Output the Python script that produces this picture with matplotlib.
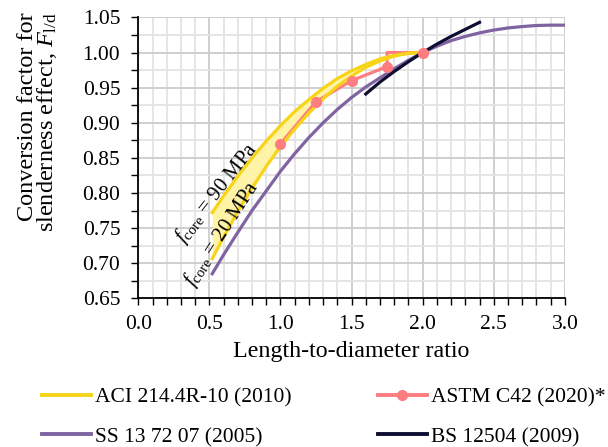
import matplotlib
matplotlib.use("Agg")
import matplotlib.pyplot as plt
from matplotlib.lines import Line2D
import numpy as np

plt.rcParams['font.family'] = ['Liberation Serif', 'DejaVu Serif']
plt.rcParams['mathtext.fontset'] = 'custom'
plt.rcParams['mathtext.rm'] = 'Liberation Serif'
plt.rcParams['mathtext.it'] = 'Liberation Serif:italic'

# ---- data ----
aci_x = [0.52, 0.6, 0.7, 0.8, 0.9, 1.0, 1.1, 1.2, 1.3, 1.4, 1.5, 1.6, 1.7, 1.8, 1.9, 2.0]
aci_90 = [0.772, 0.796, 0.824, 0.850, 0.874, 0.896, 0.916, 0.933, 0.949, 0.963,
          0.974, 0.983, 0.991, 0.996, 0.999, 1.000]
aci_20 = [0.7065, 0.737, 0.774, 0.807, 0.838, 0.866, 0.891, 0.914, 0.934, 0.952,
          0.9665, 0.979, 0.988, 0.995, 0.999, 1.000]

ss_x = [0.52, 0.6, 0.7, 0.8, 0.9, 1.0, 1.1, 1.2, 1.3, 1.4, 1.5, 1.6, 1.7, 1.8, 1.9,
        2.0, 2.1, 2.2, 2.3, 2.4, 2.5, 2.6, 2.7, 2.8, 2.9, 3.0]
ss_y = [0.685, 0.712, 0.744, 0.775, 0.803, 0.831, 0.856, 0.879, 0.900, 0.919,
        0.936, 0.951, 0.964, 0.977, 0.989, 1.000, 1.009, 1.017, 1.023, 1.028,
        1.032, 1.035, 1.037, 1.0385, 1.039, 1.039]

astm_x = [1.0, 1.25, 1.5, 1.75, 1.75, 2.0]
astm_y = [0.87, 0.93, 0.96, 0.98, 1.00, 1.00]
astm_marks = [0, 1, 2, 3, 5]

bs_x = [1.6, 1.7, 1.8, 1.9, 2.0, 2.1, 2.2, 2.3, 2.4]
bs_y = [0.941, 0.958, 0.973, 0.987, 1.000, 1.012, 1.023, 1.033, 1.043]

labels = ['ACI 214.4R-10 (2010)', 'SS 13 72 07 (2005)', 'ASTM C42 (2020)*', 'BS 12504 (2009)']

# ---- style ----
c_yellow = '#F7D417'
c_fill = '#FFF3A8'
c_pink = '#FF7C80'
c_purple = '#8064A2'
c_black = '#0E0E33'
lw = 2.3

fig = plt.figure(figsize=(6.08, 4.47), dpi=100)
ax = fig.add_axes([0.2275, 0.3327, 0.7015, 0.6283])

ax.fill_between(aci_x, aci_20, aci_90, color=c_fill, lw=0, zorder=1)
ax.plot(astm_x, astm_y, color=c_pink, lw=lw, zorder=2, solid_capstyle='butt')
ax.plot(aci_x, aci_90, color=c_yellow, lw=lw, zorder=3)
ax.plot(aci_x, aci_20, color=c_yellow, lw=lw, zorder=3)
ax.plot(ss_x, ss_y, color=c_purple, lw=lw, zorder=4)
ax.plot(bs_x, bs_y, color=c_black, lw=lw, zorder=5)
ax.plot([astm_x[i] for i in astm_marks], [astm_y[i] for i in astm_marks],
        ls='none', marker='o', ms=7, color=c_pink, zorder=6)

ax.set_xlim(0, 3.0)
ax.set_ylim(0.65, 1.05)
ax.set_xticks(np.arange(0, 3.01, 0.5))
ax.set_xticks(np.arange(0, 3.01, 0.1), minor=True)
ax.set_yticks(np.arange(0.65, 1.051, 0.05))
ax.set_yticks(np.arange(0.65, 1.051, 0.025), minor=True)
ax.set_xticklabels([f'{v:.1f}' for v in np.arange(0, 3.01, 0.5)])
ax.set_yticklabels([f'{v:.2f}' for v in np.arange(0.65, 1.051, 0.05)])
ax.tick_params(which='both', direction='out', length=5, width=1, labelsize=15.5, color='black')
ax.tick_params(axis='x', pad=7)
ax.tick_params(axis='y', pad=8)
ax.grid(which='major', color='#CCCCCC', lw=1.3, zorder=0)
ax.grid(which='minor', color='#E3E3E3', lw=1.3, zorder=0)
ax.set_axisbelow(True)
for s in ['top', 'right']:
    ax.spines[s].set_visible(False)
for s in ['left', 'bottom']:
    ax.spines[s].set_linewidth(1.3)
    ax.spines[s].set_zorder(7)

ax.set_xlabel('Length-to-diameter ratio', fontsize=17.3, labelpad=5)
fig.text(0.062, 0.972, 'Conversion factor for\nslenderness effect, $F_{\\rm l/d}$',
         rotation=90, ha='center', va='top', multialignment='right', fontsize=17.5,
         linespacing=0.85)

ax.text(0.555, 0.800, r'$f_{\rm core}$ = 90 MPa', rotation=52, ha='center', va='center',
        rotation_mode='anchor', fontsize=15, zorder=8)
ax.text(0.585, 0.742, r'$f_{\rm core}$ = 20 MPa', rotation=57, ha='center', va='center',
        rotation_mode='anchor', fontsize=15, zorder=8)

handles = [Line2D([], [], color=c_yellow, lw=lw + 0.5),
           Line2D([], [], color=c_purple, lw=lw + 0.5),
           Line2D([], [], color=c_pink, lw=lw + 0.5, marker='o', ms=7),
           Line2D([], [], color=c_black, lw=lw + 0.5)]
fig.legend(handles, labels, ncol=2, loc='center', bbox_to_anchor=(0.532, 0.067),
           frameon=False, fontsize=15.5, handlelength=2.28, handletextpad=0.19,
           columnspacing=4.0, labelspacing=0.92, borderpad=0)

fig.savefig('out.png', dpi=100)
